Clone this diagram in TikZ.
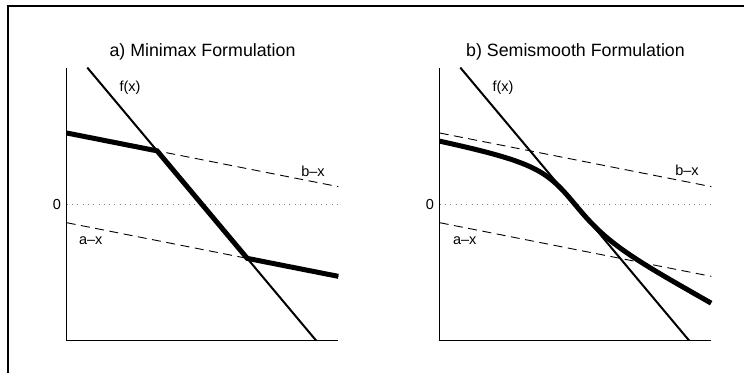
\documentclass[tikz,border=0pt]{standalone}
\usepackage{fontspec}
\setmainfont{Liberation Sans}
\usetikzlibrary{positioning}

\begin{document}
\begin{tikzpicture}[x=1pt, y=1pt,
    axisline/.style={line width=1pt},
    zeroline/.style={gray, line width=0.9pt, dash pattern=on 0.9pt off 4.4pt},
    guide/.style={line width=0.9pt, dash pattern=on 9pt off 5.5pt},
    fline/.style={line width=2pt},
    sol/.style={line width=5pt},
    lbl/.style={font=\fontsize{14.5}{16}\selectfont, inner sep=0pt},
    ttl/.style={font=\fontsize{17.8}{20}\selectfont, inner sep=0pt},
    declare function={
      fa(\x)=-0.187-0.1975*\x;
      fb(\x)=0.71-0.1975*\x;
      ff(\x)=1.61-1.193*\x;
      pp(\u,\v)=\u+\v+sqrt(\u*\u+\v*\v);
      pm(\u,\v)=\u+\v-sqrt(\u*\u+\v*\v);
    }]
  \useasboundingbox (0,0) rectangle (744,373);
  % frame
  \draw[line width=2pt] (7.7,0) -- (7.7,366.8) -- (744,366.8);

  % a) minimax
  \begin{scope}[shift={(66.7pt,169pt)}, x=100pt, y=100pt]
    \node[ttl] (ta) at (1.358,1.52) {a) Minimax Formulation};
    \draw[zeroline] (0,0) -- (2.716,0);
    \draw[guide] (0,{fb(0)}) -- (2.716,{fb(2.716)});
    \draw[guide] (0,{fa(0)}) -- (2.716,{fa(2.716)});
    \draw[fline] (0.206,1.364) -- (2.493,-1.364);
    \draw[sol] (0,{fb(0)}) -- (0.9041,0.5314) -- (1.8051,-0.5435) -- (2.716,{fa(2.716)});
    \draw[axisline] (0,1.364) -- (0,-1.364) -- (2.716,-1.364);
    \node[lbl, anchor=east] (za) at (-0.055,-0.01) {0};
    \node[lbl] (fxa) at (0.633,1.16) {f(x)};
    \node[lbl] (bxa) at (2.463,0.33) {b–x};
    \node[lbl] (axa) at (0.24,-0.367) {a–x};
  \end{scope}

  % b) semismooth
  \begin{scope}[shift={(439.7pt,169pt)}, x=100pt, y=100pt]
    \node[ttl] (tb) at (1.358,1.52) {b) Semismooth Formulation};
    \draw[zeroline] (0,0) -- (2.716,0);
    \draw[guide] (0,{fb(0)}) -- (2.716,{fb(2.716)});
    \draw[guide] (0,{fa(0)}) -- (2.716,{fa(2.716)});
    \draw[fline] (0.206,1.364) -- (2.493,-1.364);
    \draw[sol, line join=round] plot[domain=0:2.716, samples=120, smooth]
      (\x,{pm(pp(ff(\x),fa(\x)),fb(\x))});
    \draw[axisline] (0,1.364) -- (0,-1.364) -- (2.716,-1.364);
    \node[lbl, anchor=east] (zb) at (-0.055,-0.01) {0};
    \node[lbl] (fxb) at (0.633,1.16) {f(x)};
    \node[lbl] (bxb) at (2.473,0.34) {b–x};
    \node[lbl] (axb) at (0.25,-0.37) {a–x};
  \end{scope}
\end{tikzpicture}
\end{document}
